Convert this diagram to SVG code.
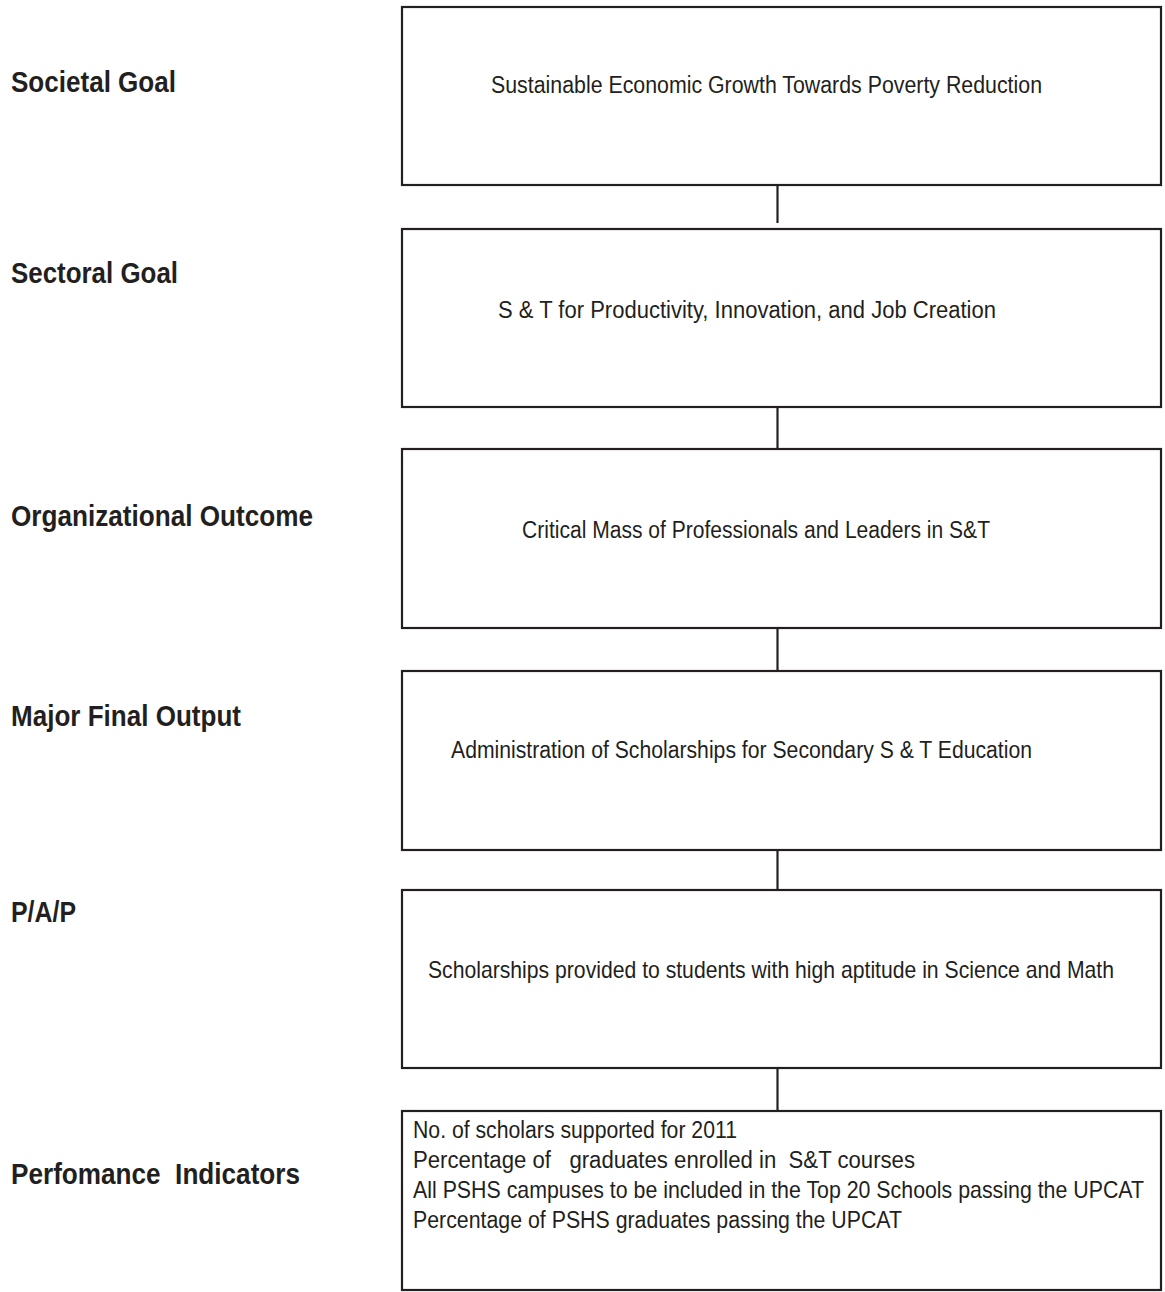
<svg xmlns="http://www.w3.org/2000/svg" width="1165" height="1292" viewBox="0 0 1165 1292">
<style>
.box{fill:#fff;stroke:#231f20;stroke-width:2.2}
.lbl{font-family:"Liberation Sans",Arial,sans-serif;font-size:29px;font-weight:bold;fill:#231f20}
.txt{font-family:"Liberation Sans",Arial,sans-serif;font-size:23px;fill:#231f20}
.con{stroke:#231f20;stroke-width:2.2;fill:none}
</style>
<rect width="1165" height="1292" fill="#fff"/>
<g id="labels">
<text class="lbl" x="11" y="92" textLength="165" lengthAdjust="spacingAndGlyphs">Societal Goal</text>
<text class="lbl" x="11" y="283" textLength="167" lengthAdjust="spacingAndGlyphs">Sectoral Goal</text>
<text class="lbl" x="11" y="526" textLength="302" lengthAdjust="spacingAndGlyphs">Organizational Outcome</text>
<text class="lbl" x="11" y="726" textLength="230" lengthAdjust="spacingAndGlyphs">Major Final Output</text>
<text class="lbl" x="11" y="922" textLength="65" lengthAdjust="spacingAndGlyphs">P/A/P</text>
<text class="lbl" x="11" y="1184" textLength="289" lengthAdjust="spacingAndGlyphs" xml:space="preserve">Perfomance  Indicators</text>
</g>
<g id="connectors">
<line class="con" x1="777.5" y1="182" x2="777.5" y2="223"/>
<line class="con" x1="777.5" y1="407" x2="777.5" y2="449"/>
<line class="con" x1="777.5" y1="628" x2="777.5" y2="671"/>
<line class="con" x1="777.5" y1="850" x2="777.5" y2="890"/>
<line class="con" x1="777.5" y1="1068" x2="777.5" y2="1111"/>
</g>
<g id="societal">
<rect class="box" x="402" y="7" width="759" height="178"/>
<text class="txt" x="491" y="93" textLength="551" lengthAdjust="spacingAndGlyphs">Sustainable Economic Growth Towards Poverty Reduction</text>
</g>
<g id="sectoral">
<rect class="box" x="402" y="229" width="759" height="178"/>
<text class="txt" x="498" y="318" textLength="498" lengthAdjust="spacingAndGlyphs">S &amp; T for Productivity, Innovation, and Job Creation</text>
</g>
<g id="outcome">
<rect class="box" x="402" y="449" width="759" height="179"/>
<text class="txt" x="522" y="538" textLength="468" lengthAdjust="spacingAndGlyphs">Critical Mass of Professionals and Leaders in S&amp;T</text>
</g>
<g id="mfo">
<rect class="box" x="402" y="671" width="759" height="179"/>
<text class="txt" x="451" y="758" textLength="581" lengthAdjust="spacingAndGlyphs">Administration of Scholarships for Secondary S &amp; T Education</text>
</g>
<g id="pap">
<rect class="box" x="402" y="890" width="759" height="178"/>
<text class="txt" transform="translate(428,978) scale(0.85,1)" x="0" y="0" textLength="807" lengthAdjust="spacingAndGlyphs">Scholarships provided to students with high aptitude in Science and Math</text>
</g>
<g id="indicators">
<rect class="box" x="402" y="1111" width="759" height="179"/>
<text class="txt" x="413" y="1138" textLength="324" lengthAdjust="spacingAndGlyphs">No. of scholars supported for 2011</text>
<text class="txt" x="413" y="1168" textLength="502" lengthAdjust="spacingAndGlyphs" xml:space="preserve">Percentage of   graduates enrolled in  S&amp;T courses</text>
<text class="txt" transform="translate(413,1198) scale(0.85,1)" x="0" y="0" textLength="860" lengthAdjust="spacingAndGlyphs">All PSHS campuses to be included in the Top 20 Schools passing the UPCAT</text>
<text class="txt" x="413" y="1228" textLength="489" lengthAdjust="spacingAndGlyphs">Percentage of PSHS graduates passing the UPCAT</text>
</g>
</svg>
